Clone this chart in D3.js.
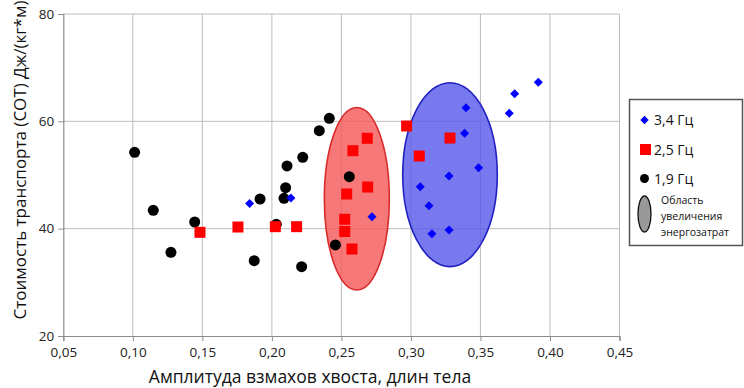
<!DOCTYPE html>
<html><head><meta charset="utf-8">
<script src="https://cdn.jsdelivr.net/npm/d3@7"></script>
<style>body{margin:0;background:#fff}svg{display:block}text{font-family:"Open Sans",sans-serif}</style>
</head><body><svg id="c" width="744" height="388"></svg>
<script>
const xTicks = [0.05,0.10,0.15,0.20,0.25,0.30,0.35,0.40,0.45];
const yTicks = [20,40,60,80];
const blackX = [0.1013,0.1147,0.1445,0.1274,0.1873,0.1915,0.2032,0.2087,0.2099,0.2109,0.2222,0.2214,0.2341,0.2413,0.2457,0.2557];
const blackY = [54.23,43.42,41.24,35.6,34.03,45.53,40.81,45.66,47.63,51.68,53.3,32.91,58.25,60.56,36.96,49.68];
const redX = [0.1483,0.1756,0.2025,0.2178,0.2524,0.2524,0.2576,0.2538,0.2689,0.2583,0.2686,0.2969,0.306,0.3281];
const redY = [39.32,40.31,40.37,40.37,41.75,39.47,36.21,46.46,47.76,54.53,56.84,59.13,53.54,56.89];
const blueX = [0.184,0.2137,0.272,0.3067,0.313,0.3151,0.3274,0.3274,0.3487,0.3386,0.3396,0.3707,0.3746,0.3916];
const blueY = [44.69,45.71,42.23,47.82,44.28,39.06,39.75,49.81,51.36,57.77,62.54,61.5,65.15,67.27];
// ellipses: [cx, cy, rx (x units), ry (y units)]
const redZone = [0.2611,45.58,0.02337,17.01];
const blueZone = [0.3281,50.06,0.034,17.14];
const legendLabels = ["3,4 Гц","2,5 Гц","1,9 Гц"];
const zoneLabel = ["Область","увеличения","энергозатрат"];

const svg = d3.select("#c");
const x = d3.scaleLinear().domain([0.05,0.45]).range([63.3,619.5]);
const y = d3.scaleLinear().domain([20,80]).range([336,14]);
const fmt = d => d3.format(".2f")(d).replace(".",",");

// grid
svg.append("g").selectAll("line").data(xTicks.slice(1)).join("line")
  .attr("x1",d=>x(d)).attr("x2",d=>x(d)).attr("y1",y(80)).attr("y2",y(20))
  .attr("stroke","#bdbdbd").attr("stroke-width",1);
svg.append("g").selectAll("line").data(yTicks.slice(1)).join("line")
  .attr("x1",x(0.05)).attr("x2",x(0.45)).attr("y1",d=>y(d)).attr("y2",d=>y(d))
  .attr("stroke","#bdbdbd").attr("stroke-width",1);

// axes
const xa = svg.append("g").attr("transform",`translate(0,${y(20)})`)
  .call(d3.axisBottom(x).tickValues(xTicks).tickFormat(fmt).tickSize(5).tickPadding(6));
const ya = svg.append("g").attr("transform",`translate(${x(0.05)},0)`)
  .call(d3.axisLeft(y).tickValues(yTicks).tickSize(5).tickPadding(4));
[xa,ya].forEach(a=>{
  a.select(".domain").attr("stroke","#8c8c8c").attr("stroke-width",1.2);
  a.selectAll(".tick line").attr("stroke","#8c8c8c");
  a.selectAll("text").attr("fill","#222").style("font-size","13.5px").style("font-family","'Open Sans',sans-serif");
});

// zones
function zone(z, fill, stroke){
  svg.append("ellipse").attr("cx",x(z[0])).attr("cy",y(z[1]))
    .attr("rx",x(z[0]+z[2])-x(z[0])).attr("ry",y(z[1])-y(z[1]+z[3]))
    .attr("fill",fill).attr("stroke",stroke).attr("stroke-width",1.6);
}
zone(redZone,"rgba(245,90,90,0.82)","#d92b2b");
zone(blueZone,"rgba(90,90,235,0.82)","#2020c0");

// points
const dBlack = blackX.map((v,i)=>[v,blackY[i]]);
const dRed = redX.map((v,i)=>[v,redY[i]]);
const dBlue = blueX.map((v,i)=>[v,blueY[i]]);
svg.append("g").selectAll("circle").data(dBlack).join("circle")
  .attr("cx",d=>x(d[0])).attr("cy",d=>y(d[1])).attr("r",5.5).attr("fill","#000");
svg.append("g").selectAll("rect").data(dRed).join("rect")
  .attr("x",d=>x(d[0])-5.5).attr("y",d=>y(d[1])-5.5).attr("width",11).attr("height",11).attr("fill","#ff0000");
const dia = d3.symbol().type(d3.symbolDiamond2).size(52);
svg.append("g").selectAll("path").data(dBlue).join("path")
  .attr("d",dia).attr("transform",d=>`translate(${x(d[0])},${y(d[1])})`).attr("fill","#0000ff");

// axis titles
svg.append("text").attr("x",310).attr("y",383).attr("text-anchor","middle")
  .style("font-size","17.5px").attr("fill","#111").text("Амплитуда взмахов хвоста, длин тела");
svg.append("text").attr("transform","translate(26,160) rotate(-90)").attr("text-anchor","middle")
  .style("font-size","17px").attr("fill","#111").text("Стоимость транспорта (СОТ) Дж/(кг*м)");

// legend
const lg = svg.append("g");
lg.append("rect").attr("x",629.5).attr("y",99.5).attr("width",113).attr("height",146)
  .attr("fill","#fff").attr("stroke","#555").attr("stroke-width",1.5);
const ly = [120,149.5,178.5];
lg.append("path").attr("d",d3.symbol().type(d3.symbolDiamond2).size(45)).attr("transform",`translate(644.5,${ly[0]})`).attr("fill","#0000ff");
lg.append("rect").attr("x",640).attr("y",ly[1]-5.5).attr("width",11).attr("height",11).attr("fill","#ff0000");
lg.append("circle").attr("cx",644.5).attr("cy",ly[2]).attr("r",4.5).attr("fill","#000");
lg.selectAll("text.s").data(legendLabels).join("text").attr("class","s")
  .attr("x",654).attr("y",(d,i)=>ly[i]+5).style("font-size","14px").attr("fill","#111").text(d=>d);
lg.append("ellipse").attr("cx",644.5).attr("cy",214).attr("rx",6.5).attr("ry",18)
  .attr("fill","#999").attr("stroke","#111").attr("stroke-width",1.3);
lg.selectAll("text.z").data(zoneLabel).join("text").attr("class","z")
  .attr("x",661).attr("y",(d,i)=>204+i*16).style("font-size","10.5px").attr("fill","#111").text(d=>d);
</script></body></html>
